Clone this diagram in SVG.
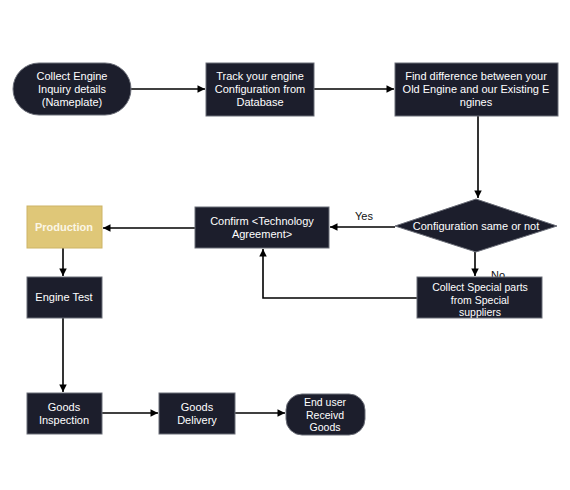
<svg xmlns="http://www.w3.org/2000/svg" width="570" height="490" viewBox="0 0 570 490">
<defs>
<style>
.box{fill:#1c1e2c;stroke:#6b6e78;stroke-width:1}
.prod{fill:#dfc778;stroke:#cdb466;stroke-width:1}
.t{font-family:"Liberation Sans","Arial",sans-serif;font-size:11px;fill:#ffffff;text-anchor:middle}
.s{font-size:10.5px}
.pt{font-family:"Liberation Sans","Arial",sans-serif;font-size:11px;fill:#fbf6e6;text-anchor:middle;font-weight:bold}
.lbl{font-family:"Liberation Sans","Arial",sans-serif;font-size:11px;fill:#111111;text-anchor:middle}
.c{fill:none;stroke:#000000;stroke-width:1.6;marker-end:url(#ah)}
</style>
<marker id="ah" viewBox="0 0 10 10" refX="10" refY="5" markerWidth="8" markerHeight="7.5" markerUnits="userSpaceOnUse" orient="auto">
<path d="M0,0 L10,5 L0,10 z" fill="#000000"/>
</marker>
</defs>
<rect width="570" height="490" fill="#ffffff"/>
<g id="connectors">
<path class="c" d="M131,89 L205,89"/>
<path class="c" d="M314,89 L394,89"/>
<path class="c" d="M478,116 L478,198"/>
<path class="c" d="M395,227 L330,227"/>
<path class="c" d="M195,228 L103,228"/>
<path class="c" d="M475,252 L475,276"/>
<path class="c" d="M417,298 L263,298 L263,249"/>
<path class="c" d="M63,248 L63,276"/>
<path class="c" d="M63,318 L63,392"/>
<path class="c" d="M102,413 L158,413"/>
<path class="c" d="M235,413 L285,413"/>
<text class="lbl" x="364" y="220">Yes</text>
<text class="lbl" x="498" y="279">No</text>
</g>
<g id="n1">
<rect class="box" x="13" y="63" width="118" height="52" rx="26"/>
<text class="t" x="72" y="80">Collect Engine</text>
<text class="t" x="72" y="93">Inquiry details</text>
<text class="t" x="72" y="106">(Nameplate)</text>
</g>
<g id="n2">
<rect class="box" x="206" y="63" width="108" height="53"/>
<text class="t" x="260" y="80">Track your engine</text>
<text class="t" x="260" y="93">Configuration from</text>
<text class="t" x="260" y="106">Database</text>
</g>
<g id="n3">
<rect class="box" x="395" y="63" width="163" height="53"/>
<text class="t" x="476" y="80">Find difference between your</text>
<text class="t" x="476" y="93">Old Engine and our Existing E</text>
<text class="t" x="476" y="106">ngines</text>
</g>
<g id="n4">
<path class="box" d="M395,226 L476,199 L557,226 L476,252 Z"/>
<text class="t" x="476" y="230">Configuration same or not</text>
</g>
<g id="n5">
<rect class="box" x="195" y="207" width="134" height="41"/>
<text class="t" x="262" y="225">Confirm &lt;Technology</text>
<text class="t" x="262" y="238">Agreement&gt;</text>
</g>
<g id="n6">
<rect class="prod" x="27" y="206" width="75" height="42"/>
<text class="pt" x="64" y="231">Production</text>
</g>
<g id="n7">
<rect class="box" x="417" y="277" width="125" height="41"/>
<text class="t s" x="480" y="291">Collect Special parts</text>
<text class="t s" x="480" y="303.5">from Special</text>
<text class="t s" x="480" y="316">suppliers</text>
</g>
<g id="n8">
<rect class="box" x="27" y="277" width="75" height="41"/>
<text class="t" x="64" y="301">Engine Test</text>
</g>
<g id="n9">
<rect class="box" x="27" y="393" width="75" height="41"/>
<text class="t" x="64" y="411">Goods</text>
<text class="t" x="64" y="424">Inspection</text>
</g>
<g id="n10">
<rect class="box" x="159" y="393" width="76" height="41"/>
<text class="t" x="197" y="411">Goods</text>
<text class="t" x="197" y="424">Delivery</text>
</g>
<g id="n11">
<rect class="box" x="286" y="394" width="79" height="41" rx="16"/>
<text class="t s" x="325" y="406">End user</text>
<text class="t s" x="325" y="418.5">Receivd</text>
<text class="t s" x="325" y="431">Goods</text>
</g>
</svg>
